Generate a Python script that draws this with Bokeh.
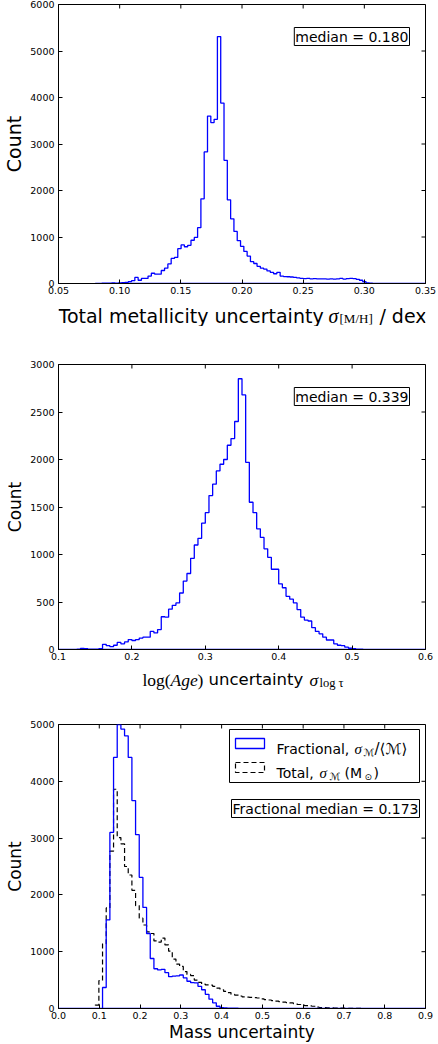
import numpy as np
from bokeh.plotting import figure
from bokeh.models import Label, BoxAnnotation, FixedTicker, Range1d
from bokeh.layouts import column
from bokeh.embed import file_html
from bokeh.resources import INLINE

# ---------------- data ----------------
# Panel 1: metallicity uncertainty histogram (100 bins over 0.08..0.35)
met_range = (0.08, 0.35)
met_counts = [0, 0, 5, 5, 10, 15, 10, 15, 20, 25,
              40, 60, 130, 70, 110, 110, 160, 220, 200, 200,
              280, 330, 420, 540, 560, 750, 830, 790, 820, 930,
              990, 1200, 1820, 2830, 3600, 3460, 3530, 5310, 3880, 2650,
              1800, 1390, 1120, 920, 800, 690, 590, 470, 430, 370,
              330, 310, 270, 240, 210, 240, 160, 150, 145, 140,
              130, 120, 110, 105, 110, 100, 105, 100, 100, 100,
              95, 100, 95, 100, 110, 95, 105, 110, 105, 90,
              70, 40, 15, 5, 0, 0, 0, 0, 0, 0,
              0, 0, 0, 0, 0, 0, 0, 0, 0, 0]
met_median = "median = 0.180"

# Panel 2: log(Age) uncertainty histogram (100 bins over 0.1..0.6)
age_range = (0.1, 0.6)
age_counts = [0, 0, 0, 0, 2, 3, 12, 8, 5, 5,
              5, 10, 55, 40, 30, 45, 75, 60, 80, 105,
              95, 105, 120, 130, 130, 190, 175, 210, 345, 340,
              425, 465, 490, 595, 720, 800, 960, 1100, 1170, 1330,
              1440, 1620, 1740, 1880, 1950, 2000, 2150, 2220, 2400, 2850,
              2680, 1970, 1550, 1440, 1270, 1180, 1060, 970, 845, 845,
              690, 650, 560, 530, 490, 420, 340, 310, 300, 230,
              190, 165, 130, 100, 100, 60, 45, 40, 25, 15,
              10, 5, 3, 2, 1, 1, 0, 0, 0, 0,
              0, 0, 0, 0, 0, 0, 0, 0, 0, 0]
age_median = "median = 0.339"

# Panel 3: mass uncertainty histograms (100 bins over 0.0..0.9)
mass_range = (0.0, 0.9)
mass_frac_counts = [0, 0, 0, 0, 0, 0, 0, 0, 0, 0,
                    0, 0, 370, 1560, 3100, 4420, 5000, 4920, 4800, 4420,
                    3660, 3060, 2310, 1780, 1320, 880, 700, 680, 690, 630,
                    560, 570, 575, 590, 540, 480, 455, 450, 390, 330,
                    250, 165, 100, 40, 15, 10, 8, 5, 5, 3,
                    2, 2, 1, 1, 1, 0, 0, 0, 0, 0,
                    0, 0, 0, 0, 0, 0, 0, 0, 0, 0,
                    0, 0, 0, 0, 0, 0, 0, 0, 0, 0,
                    0, 0, 0, 0, 0, 0, 0, 0, 0, 0,
                    0, 0, 0, 0, 0, 0, 0, 0, 0, 0]
mass_total_counts = [0, 0, 0, 0, 0, 0, 0, 0, 0, 0,
                     60, 490, 1140, 1770, 2770, 3860, 3010, 2900, 2500, 2350,
                     2080, 1810, 1590, 1470, 1350, 1320, 1190, 1170, 1240, 1120,
                     1010, 870, 780, 740, 650, 600, 580, 500, 460, 430,
                     415, 410, 390, 360, 330, 300, 280, 250, 235, 220,
                     205, 200, 195, 190, 185, 170, 158, 150, 140, 130,
                     120, 112, 105, 98, 85, 70, 58, 52, 45, 40,
                     23, 18, 15, 12, 10, 8, 6, 5, 4, 3,
                     2, 1, 1, 0, 0, 0, 0, 0, 0, 0,
                     0, 0, 0, 0, 0, 0, 0, 0, 0, 0]
mass_median = "Fractional median = 0.173"

# tick values / labels
met_xrange = (0.05, 0.35)
met_xticks = [0.05, 0.10, 0.15, 0.20, 0.25, 0.30, 0.35]
met_xtick_labels = ["0.05", "0.10", "0.15", "0.20", "0.25", "0.30", "0.35"]
met_yticks = [0, 1000, 2000, 3000, 4000, 5000, 6000]
met_yrange = (0, 6000)

age_xrange = (0.1, 0.6)
age_xticks = [0.1, 0.2, 0.3, 0.4, 0.5, 0.6]
age_xtick_labels = ["0.1", "0.2", "0.3", "0.4", "0.5", "0.6"]
age_yticks = [0, 500, 1000, 1500, 2000, 2500, 3000]
age_yrange = (0, 3000)

mass_xrange = (0.0, 0.9)
mass_xticks = [0.0, 0.1, 0.2, 0.3, 0.4, 0.5, 0.6, 0.7, 0.8, 0.9]
mass_xtick_labels = ["0.0", "0.1", "0.2", "0.3", "0.4", "0.5", "0.6", "0.7", "0.8", "0.9"]
mass_yticks = [0, 1000, 2000, 3000, 4000, 5000]
mass_yrange = (0, 5000)

SANS = "DejaVu Sans"
SERIF = "Liberation Serif"
TICK_FS = "9.5px"
W = 438
LEFT, RIGHT = 57, 13
FRAME_W = W - LEFT - RIGHT
TICK_PX = 4


def step_outline(rng, counts):
    counts = np.asarray(counts, dtype=float)
    edges = np.linspace(rng[0], rng[1], len(counts) + 1)
    xs = np.repeat(edges, 2)
    ys = np.concatenate([[0.0], np.repeat(counts, 2), [0.0]])
    return xs, ys


def style_axis(ax, ticker, labels=None):
    ax.ticker = ticker
    ax.major_tick_in = TICK_PX
    ax.major_tick_out = 0
    ax.minor_tick_in = 0
    ax.minor_tick_out = 0
    ax.axis_line_color = "black"
    ax.major_tick_line_color = "black"
    ax.axis_label_text_font_style = "normal"
    ax.axis_label_text_font = SANS
    ax.axis_label_text_color = "black"
    ax.major_label_text_font = SANS
    ax.major_label_text_font_size = TICK_FS
    ax.major_label_text_color = "black"
    if labels is not None:
        ax.major_label_overrides = labels


def make_fig(height, top, bottom, frame_h, xr, yr, xticks, xlabels, yticks, ylab_size):
    p = figure(width=W, height=height,
               x_range=Range1d(*xr), y_range=Range1d(*yr),
               output_backend="svg", toolbar_location=None,
               min_border_left=LEFT, min_border_right=RIGHT,
               min_border_top=top, min_border_bottom=bottom)
    p.grid.visible = False
    p.outline_line_color = "black"
    p.outline_line_width = 1
    p.background_fill_color = "white"
    p.border_fill_color = "white"
    xt = FixedTicker(ticks=xticks, minor_ticks=[])
    yt = FixedTicker(ticks=yticks, minor_ticks=[])
    xl = {float(t): s for t, s in zip(xticks, xlabels)}
    style_axis(p.below[0], xt, xl)
    p.below[0].major_label_standoff = 3
    style_axis(p.left[0], yt)
    p.left[0].major_label_standoff = 4
    p.left[0].axis_label = "Count"
    p.left[0].axis_label_text_font_size = ylab_size
    p.left[0].axis_label_standoff = 2
    # inward ticks on the top and right edges (matplotlib style)
    ty = yr[1] - TICK_PX * (yr[1] - yr[0]) / frame_h
    p.segment(x0=xticks, y0=[yr[1]] * len(xticks), x1=xticks, y1=[ty] * len(xticks),
              line_color="black", line_width=1)
    tx = xr[1] - TICK_PX * (xr[1] - xr[0]) / FRAME_W
    p.segment(x0=[xr[1]] * len(yticks), y0=yticks, x1=[tx] * len(yticks), y1=yticks,
              line_color="black", line_width=1)
    return p


def strip(height):
    # a blank strip (same side borders as the panels) that carries an axis title
    s = figure(width=W, height=height, x_range=Range1d(0, FRAME_W), y_range=Range1d(0, height),
               output_backend="svg", toolbar_location=None,
               x_axis_type=None, y_axis_type=None,
               min_border_left=LEFT, min_border_right=RIGHT,
               min_border_top=0, min_border_bottom=0)
    s.grid.visible = False
    s.outline_line_color = None
    s.background_fill_color = "white"
    s.border_fill_color = "white"
    return s


def lab(p, text, x, y, size, font=SANS, style="normal", align="left", baseline="alphabetic"):
    p.add_layout(Label(x=x, y=y, x_units="screen", y_units="screen", text=text,
                       text_font=font, text_font_size=size, text_font_style=style,
                       text_color="black", text_align=align, text_baseline=baseline))


def median_box(p, text, x, y):
    p.add_layout(Label(x=x, y=y, x_units="screen", y_units="screen", text=text,
                       text_font=SANS, text_font_size="14px", text_color="black",
                       text_align="right", text_baseline="top",
                       background_fill_color="white", border_line_color="black",
                       border_line_width=1, padding=1))


# ---------------- panel 1 ----------------
p1 = make_fig(297, 4, 14, 279, met_xrange, met_yrange, met_xticks, met_xtick_labels, met_yticks, "19px")
x1, y1 = step_outline(met_range, met_counts)
p1.patch(x1, y1, fill_color=None, line_color="#0000ff", line_width=1.3)
median_box(p1, met_median, 351, 256)

s1 = strip(29)
lab(s1, "Total metallicity uncertainty", 0, 11, "19px")
lab(s1, "σ", 270, 11, "20px", font=SERIF, style="italic")
lab(s1, "[M/H]", 281, 8, "13px", font=SERIF)
lab(s1, "/ dex", FRAME_W, 11, "19px", align="right")

# ---------------- panel 2 ----------------
p2 = make_fig(337, 38, 14, 285, age_xrange, age_yrange, age_xticks, age_xtick_labels, age_yticks, "17px")
x2, y2 = step_outline(age_range, age_counts)
p2.patch(x2, y2, fill_color=None, line_color="#0000ff", line_width=1.3)
median_box(p2, age_median, 351, 262)

s2 = strip(29)
lab(s2, "log(", 84, 13, "17.5px", font=SERIF)
lab(s2, "Age", 112, 13, "17.5px", font=SERIF, style="italic")
lab(s2, ")", 139, 13, "17.5px", font=SERIF)
lab(s2, "uncertainty", 150, 13, "16.5px")
lab(s2, "σ", 251, 13, "17.5px", font=SERIF, style="italic")
lab(s2, "log τ", 261, 10, "12.5px", font=SERIF)

# ---------------- panel 3 ----------------
p3 = make_fig(352, 32, 35, 285, mass_xrange, mass_yrange, mass_xticks, mass_xtick_labels, mass_yticks, "17px")
p3.below[0].axis_label = "Mass uncertainty"
p3.below[0].axis_label_text_font_size = "17px"
p3.below[0].axis_label_standoff = 0
x3a, y3a = step_outline(mass_range, mass_frac_counts)
x3b, y3b = step_outline(mass_range, mass_total_counts)
p3.patch(x3b, y3b, fill_color=None, line_color="black", line_width=1.2, line_dash="5 3")
p3.patch(x3a, y3a, fill_color=None, line_color="#0000ff", line_width=1.3)

# legend (drawn by hand so the labels can carry subscripts)
p3.add_layout(BoxAnnotation(left=171, right=361, bottom=226, top=279,
                            left_units="screen", right_units="screen",
                            bottom_units="screen", top_units="screen",
                            fill_color="white", fill_alpha=1.0,
                            line_color="black", line_alpha=1.0, line_width=1))
p3.add_layout(BoxAnnotation(left=177, right=206, bottom=260, top=270,
                            left_units="screen", right_units="screen",
                            bottom_units="screen", top_units="screen",
                            fill_alpha=0.0, line_color="#0000ff", line_alpha=1.0, line_width=1.3))
p3.add_layout(BoxAnnotation(left=177, right=206, bottom=236, top=246,
                            left_units="screen", right_units="screen",
                            bottom_units="screen", top_units="screen",
                            fill_alpha=0.0, line_color="black", line_alpha=1.0, line_width=1.2,
                            line_dash="5 3"))
lab(p3, "Fractional,", 218, 260, "14px")
lab(p3, "σ", 296, 260, "15px", font=SERIF, style="italic")
lab(p3, "ℳ", 305, 256, "10px", font=SANS)
lab(p3, "/⟨ℳ⟩", 316, 260, "15px", font=SANS)
lab(p3, "Total,", 218, 236, "14px")
lab(p3, "σ", 261, 236, "15px", font=SERIF, style="italic")
lab(p3, "ℳ", 271, 232, "10px", font=SANS)
lab(p3, "(M", 286, 236, "14px")
lab(p3, "⊙", 306, 232, "9px")
lab(p3, ")", 315, 236, "14px")
median_box(p3, mass_median, 361, 209)

layout = column(p1, s1, p2, s2, p3, spacing=0)
open("out.html", "w").write(file_html(layout, INLINE))
